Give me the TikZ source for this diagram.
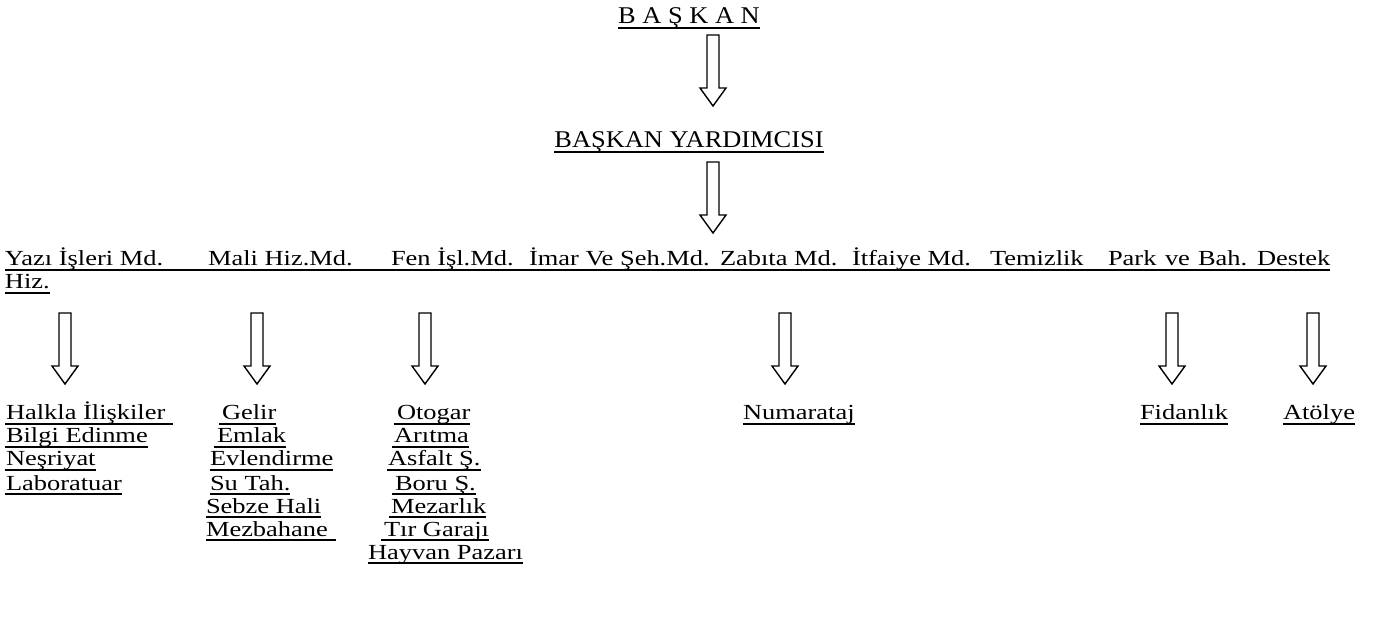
\documentclass[tikz,border=0pt]{standalone}
\usepackage{graphicx}
\usepackage{fontspec}
\setmainfont{Liberation Serif}
\newcommand\sx[1]{\scalebox{1.23}[1]{#1}}
\newcommand\tx[1]{\scalebox{1.1}[1]{#1}}
% name, x, y(baseline), text, extra left, extra right
\newcommand\ulnode[6]{%
  \node[txt] (#1) at (#2,#3) {\sx{#4}};
  \draw[ul] ([xshift=-#5pt,yshift=-3.8pt]#1.base west) -- ([xshift=#6pt,yshift=-3.8pt]#1.base east);}
\begin{document}
\begin{tikzpicture}[x=1pt,y=-1pt,
  txt/.style={inner sep=0pt, outer sep=0pt, anchor=base west, font=\fontsize{21.5}{24}\selectfont},
  ttl/.style={inner sep=0pt, outer sep=0pt, anchor=base, font=\fontsize{24}{28}\selectfont},
  ul/.style={line width=1.7pt, line cap=butt},
  dnarrow/.pic={\draw[line width=1.4pt, line join=miter]
     (-6,0) -- (6,0) -- (6,53) -- (13,53) -- (0,71) -- (-13,53) -- (-6,53) -- cycle;}]
\useasboundingbox (0,0) rectangle (1374,617);

% top
\node[ttl] (baskan) at (689,24) {\tx{B A Ş K A N}};
\draw[ul] ([yshift=-4pt]baskan.base west) -- ([yshift=-4pt]baskan.base east);
\pic at (713,35) {dnarrow};
\node[ttl] (yard) at (689,148) {\tx{BAŞKAN YARDIMCISI}};
\draw[ul] ([yshift=-4pt]yard.base west) -- ([yshift=-4pt]yard.base east);
\pic at (713,162) {dnarrow};

% row of directorates
\node[txt] (d1) at (5,266) {\sx{Yazı İşleri Md.}};
\node[txt] (d2) at (208,266) {\sx{Mali Hiz.Md.}};
\node[txt] (d3) at (391,266) {\sx{Fen İşl.Md.}};
\node[txt] (d4) at (529,266) {\sx{İmar Ve Şeh.Md.}};
\node[txt] (d5) at (720,266) {\sx{Zabıta Md.}};
\node[txt] (d6) at (852,266) {\sx{İtfaiye Md.}};
\node[txt] (d7) at (990,266) {\sx{Temizlik}};
\node[txt] (d8) at (1108,266) {\sx{Park}};
\node[txt] (d9) at (1165,266) {\sx{ve}};
\node[txt] (d10) at (1198,266) {\sx{Bah.}};
\node[txt] (d11) at (1257,266) {\sx{Destek}};
\draw[ul] ([yshift=-3.8pt]d1.base west) -- ([yshift=-3.8pt]d11.base east);
\ulnode{hiz}{5}{289}{Hiz.}{0}{0}

% arrows to units
\pic at (65,313) {dnarrow};
\pic at (257,313) {dnarrow};
\pic at (425,313) {dnarrow};
\pic at (785,313) {dnarrow};
\pic at (1172,313) {dnarrow};
\pic at (1313,313) {dnarrow};

% column 1
\ulnode{a1}{6}{420}{Halkla İlişkiler}{1}{8}
\ulnode{a2}{6}{443}{Bilgi Edinme}{1}{0}
\ulnode{a3}{6}{466}{Neşriyat}{1}{0}
\ulnode{a4}{6}{490}{Laboratuar}{1}{0}

% column 2
\ulnode{b1}{222}{420}{Gelir}{3}{0}
\ulnode{b2}{217}{443}{Emlak}{3}{0}
\ulnode{b3}{210}{466}{Evlendirme}{0}{0}
\ulnode{b4}{210}{490}{Su Tah.}{0}{0}
\ulnode{b5}{206}{513}{Sebze Hali}{0}{0}
\ulnode{b6}{206}{536}{Mezbahane}{0}{8}

% column 3
\ulnode{c1}{397}{420}{Otogar}{3}{0}
\ulnode{c2}{394}{443}{Arıtma}{2}{0}
\ulnode{c3}{388}{466}{Asfalt Ş.}{1}{0}
\ulnode{c4}{395}{490}{Boru Ş.}{3}{0}
\ulnode{c5}{391}{513}{Mezarlık}{2}{0}
\ulnode{c6}{384}{536}{Tır Garajı}{3}{0}
\ulnode{c7}{368}{559}{Hayvan Pazarı}{0}{0}

% single units
\ulnode{e1}{743}{420}{Numarataj}{0}{0}
\ulnode{f1}{1140}{420}{Fidanlık}{0}{0}
\ulnode{g1}{1283}{420}{Atölye}{0}{0}
\end{tikzpicture}
\end{document}
